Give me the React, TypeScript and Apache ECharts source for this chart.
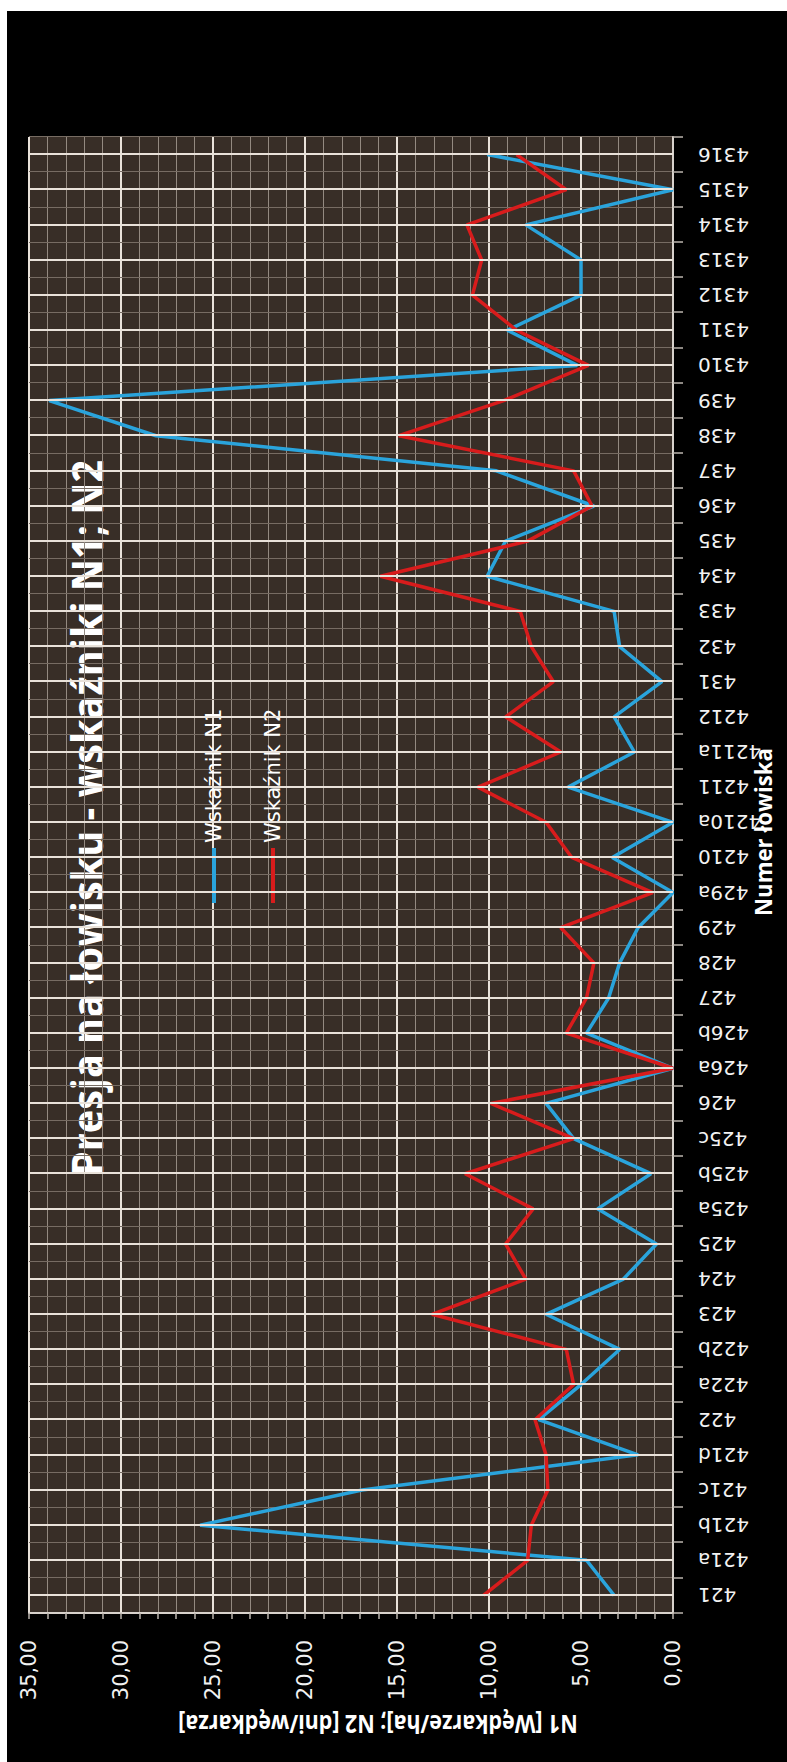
import React, { useEffect, useRef } from "react";
import * as echarts from "echarts";

const categories = [
  "421", "421a", "421b", "421c", "421d", "422", "422a", "422b", "423", "424",
  "425", "425a", "425b", "425c", "426", "426a", "426b", "427", "428", "429",
  "429a", "4210", "4210a", "4211", "4211a", "4212", "431", "432", "433", "434",
  "435", "436", "437", "438", "439", "4310", "4311", "4312", "4313", "4314",
  "4315", "4316",
];

const n1Values = [
  3.2, 4.7, 25.7, 16.9, 1.9, 7.3, 5.0, 2.9, 6.9, 2.7,
  0.9, 4.1, 1.2, 5.4, 6.9, 0, 4.7, 3.5, 2.9, 1.9,
  0, 3.3, 0, 5.7, 2.1, 3.2, 0.6, 2.9, 3.2, 10.1,
  9.1, 4.3, 9.6, 28.1, 33.9, 5.2, 9.0, 5.0, 5.0, 8.0,
  0, 10.1,
];

const n2Values = [
  10.3, 7.9, 7.7, 6.8, 6.9, 7.5, 5.4, 5.8, 13.1, 8.0,
  9.1, 7.6, 11.3, 5.4, 9.9, 0, 5.8, 4.7, 4.3, 6.1,
  1.1, 5.5, 6.9, 10.6, 6.1, 9.1, 6.5, 7.7, 8.3, 15.9,
  7.9, 4.4, 5.4, 14.9, 9.2, 4.6, 8.5, 10.9, 10.4, 11.2,
  5.8, 8.5,
];

const seriesNames = ["Wskaźnik N1", "Wskaźnik N2"];
const titleText = "Presja na łowisku - wskaźniki N1; N2";
const yAxisName = "N1 [Wędkarze/ha]; N2 [dni/wędkarza]";
const xAxisName = "Numer łowiska";

const W = 1762;
const H = 787;

function measure(text: string, font: string): number {
  const ctx = document.createElement("canvas").getContext("2d");
  if (!ctx) return 1;
  ctx.font = font;
  return ctx.measureText(text).width || 1;
}

export default function App() {
  const ref = useRef<HTMLDivElement>(null);

  useEffect(() => {
    if (!ref.current) return;
    const chart = echarts.init(ref.current, undefined, { renderer: "svg", width: W, height: H });

    const titleFont = 'bold 43px "Open Sans"';
    const titleScale = 716 / measure(titleText, titleFont);
    const yNameFont = 'bold 25px "Open Sans"';
    const yNameScale = 400 / measure(yAxisName, yNameFont);
    const xNameFont = 'bold 23px "Open Sans"';
    const xNameScale = 168 / measure(xAxisName, xNameFont);

    chart.setOption({
      animation: false,
      backgroundColor: "#000000",
      textStyle: { fontFamily: "DejaVu Sans" },
      legend: {
        data: seriesNames,
        orient: "vertical",
        left: 859,
        top: 202,
        padding: 0,
        icon: "rect",
        itemWidth: 55,
        itemHeight: 4,
        itemGap: 35,
        textStyle: { color: "#ffffff", fontSize: 21, lineHeight: 24, fontFamily: "DejaVu Sans" },
      },
      grid: {
        left: 149,
        right: 137,
        top: 29,
        bottom: 114,
        show: true,
        backgroundColor: "#382e27",
        borderWidth: 0,
        containLabel: false,
      },
      xAxis: {
        type: "category",
        data: categories,
        boundaryGap: true,
        axisLine: { show: true, lineStyle: { color: "#d8d2cc", width: 2 } },
        axisTick: { show: true, interval: 0, length: 10, lineStyle: { color: "#bdb6af", width: 1.5 } },
        axisLabel: {
          interval: 0,
          rotate: 90,
          margin: 25,
          color: "#f2f2f2",
          fontSize: 20,
          fontFamily: "DejaVu Sans",
        },
        splitLine: { show: true, interval: 0, lineStyle: { color: "#776c63", width: 1 } },
      },
      yAxis: {
        type: "value",
        min: 0,
        max: 35,
        interval: 5,
        axisLine: { show: true, lineStyle: { color: "#d8d2cc", width: 2 } },
        axisTick: { show: true, length: 6, lineStyle: { color: "#bdb6af", width: 1.5 } },
        minorTick: { show: true, splitNumber: 5, length: 6, lineStyle: { color: "#bdb6af", width: 1.5 } },
        axisLabel: {
          margin: 27,
          color: "#f2f2f2",
          fontSize: 21,
          fontFamily: "DejaVu Sans",
          formatter: (v: number) => v.toFixed(2).replace(".", ","),
        },
        splitLine: { show: true, lineStyle: { color: "#e9e2da", width: 2 } },
        minorSplitLine: { show: true, lineStyle: { color: "#948a81", width: 1 } },
      },
      series: [
        {
          name: "centres",
          type: "line",
          data: [],
          z: 1,
          silent: true,
          markLine: {
            silent: true,
            symbol: ["none", "none"],
            label: { show: false },
            emphasis: { disabled: true },
            lineStyle: { color: "#e9e2da", width: 2, type: "solid" },
            data: categories.map((c) => ({ xAxis: c })),
          },
        },
        {
          name: seriesNames[0],
          type: "line",
          data: n1Values,
          symbol: "none",
          z: 3,
          itemStyle: { color: "#2aa4dc" },
          lineStyle: { color: "#2aa4dc", width: 3.5 },
        },
        {
          name: seriesNames[1],
          type: "line",
          data: n2Values,
          symbol: "none",
          z: 3,
          itemStyle: { color: "#d81c1c" },
          lineStyle: { color: "#d81c1c", width: 3.5 },
        },
      ],
      graphic: [
        {
          type: "rect",
          silent: true,
          shape: { x: 0, y: 0, width: W, height: 7 },
          style: { fill: "#ffffff" },
        },
        {
          type: "rect",
          silent: true,
          shape: { x: W - 11, y: 0, width: 11, height: H },
          style: { fill: "#ffffff" },
        },
        {
          type: "text",
          x: 944,
          y: 86,
          scaleX: titleScale,
          silent: true,
          style: {
            text: titleText,
            fill: "#ffffff",
            font: titleFont,
            align: "center",
            verticalAlign: "middle",
          },
        },
        {
          type: "text",
          x: 37,
          y: 378,
          rotation: Math.PI / 2,
          scaleX: yNameScale,
          silent: true,
          style: {
            text: yAxisName,
            fill: "#ffffff",
            font: yNameFont,
            align: "center",
            verticalAlign: "middle",
          },
        },
        {
          type: "text",
          x: 930,
          y: 763,
          scaleX: xNameScale,
          silent: true,
          style: {
            text: xAxisName,
            fill: "#ffffff",
            font: xNameFont,
            align: "center",
            verticalAlign: "middle",
          },
        },
      ],
    });

    return () => {
      chart.dispose();
    };
  }, []);

  return (
    <div
      style={{
        position: "absolute",
        left: 0,
        top: 0,
        width: 787,
        height: 1762,
        overflow: "hidden",
        background: "#ffffff",
      }}
    >
      <div
        ref={ref}
        style={{
          position: "absolute",
          left: 0,
          top: 0,
          width: W,
          height: H,
          transformOrigin: "0 0",
          transform: `translate(0px, ${W}px) rotate(-90deg)`,
        }}
      />
    </div>
  );
}
